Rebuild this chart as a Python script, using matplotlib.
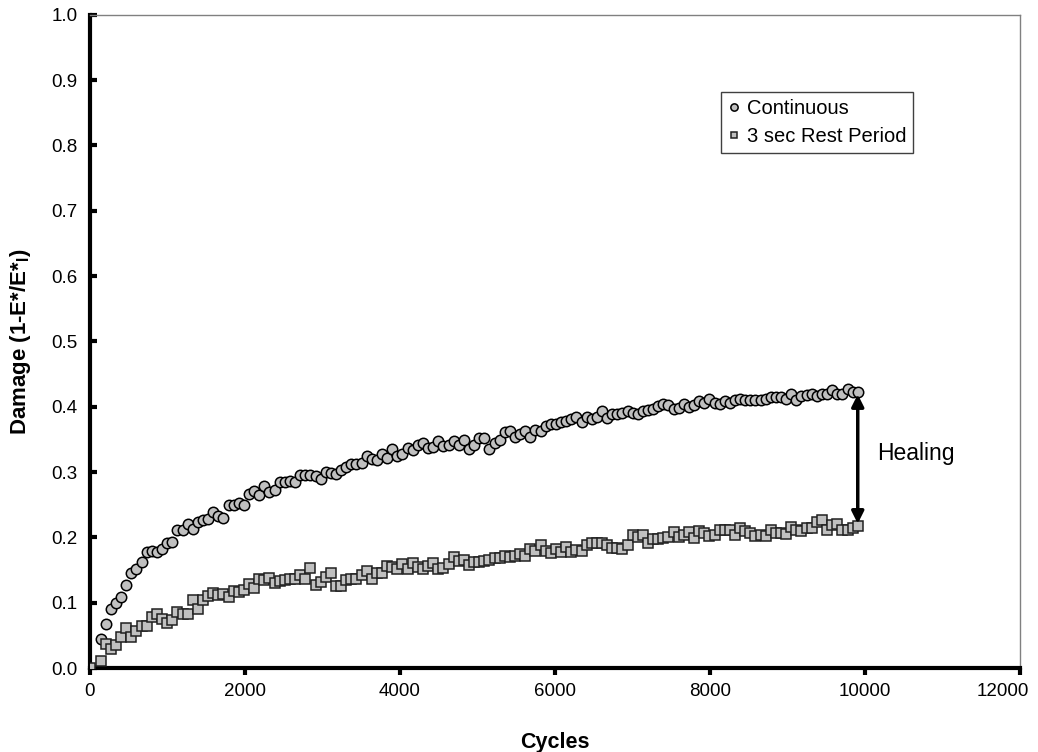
import numpy as np
import matplotlib
matplotlib.use("Agg")
import matplotlib.pyplot as plt
import matplotlib.transforms as mtransforms

plt.rcParams['font.family'] = ['Liberation Sans', 'DejaVu Sans']

cycles = [0, 138, 204, 270, 336, 402, 468, 534, 600, 666, 732, 798, 864, 930, 996,
          1062, 1128, 1194, 1260, 1326, 1392, 1458, 1524, 1590, 1656, 1722, 1788, 1854,
          1920, 1986, 2052, 2118, 2184, 2250, 2316, 2382, 2448, 2514, 2580, 2646, 2712,
          2778, 2844, 2910, 2976, 3042, 3108, 3174, 3240, 3306, 3372, 3438, 3504, 3570,
          3636, 3702, 3768, 3834, 3900, 3966, 4032, 4098, 4164, 4230, 4296, 4362, 4428,
          4494, 4560, 4626, 4692, 4758, 4824, 4890, 4956, 5022, 5088, 5154, 5220, 5286,
          5352, 5418, 5484, 5550, 5616, 5682, 5748, 5814, 5880, 5946, 6012, 6078, 6144,
          6210, 6276, 6342, 6408, 6474, 6540, 6606, 6672, 6738, 6804, 6870, 6936, 7002,
          7068, 7134, 7200, 7266, 7332, 7398, 7464, 7530, 7596, 7662, 7728, 7794, 7860,
          7926, 7992, 8058, 8124, 8190, 8256, 8322, 8388, 8454, 8520, 8586, 8652, 8718,
          8784, 8850, 8916, 8982, 9048, 9114, 9180, 9246, 9312, 9378, 9444, 9510, 9576,
          9642, 9708, 9774, 9840, 9906]

continuous = [0.0,
              0.044, 0.067, 0.090, 0.100, 0.109, 0.127, 0.146, 0.152, 0.163, 0.177, 0.179, 0.178,
              0.182, 0.192, 0.193, 0.211, 0.211, 0.220, 0.213, 0.223, 0.227, 0.228, 0.239,
              0.232, 0.230, 0.249, 0.249, 0.252, 0.249, 0.266, 0.271, 0.265, 0.279, 0.270, 0.273,
              0.285, 0.284, 0.286, 0.284, 0.295, 0.296, 0.295, 0.294, 0.290, 0.300, 0.299, 0.297, 0.303,
              0.308, 0.312, 0.313, 0.314, 0.325, 0.320, 0.318, 0.327, 0.322, 0.336, 0.325, 0.328,
              0.337, 0.333, 0.341, 0.345, 0.337, 0.339, 0.348, 0.340, 0.342, 0.348, 0.341, 0.349, 0.336,
              0.341, 0.352, 0.352, 0.336, 0.344, 0.349, 0.361, 0.363, 0.353, 0.359, 0.363, 0.353,
              0.364, 0.363, 0.370, 0.373, 0.373, 0.376, 0.378, 0.381, 0.385, 0.377, 0.384, 0.381, 0.384,
              0.394, 0.382, 0.389, 0.389, 0.390, 0.394, 0.391, 0.389, 0.393, 0.395, 0.397, 0.401,
              0.404, 0.403, 0.397, 0.398, 0.404, 0.399, 0.403, 0.409, 0.405, 0.412, 0.405, 0.404, 0.409,
              0.405, 0.410, 0.412, 0.411, 0.411, 0.411, 0.411, 0.412, 0.415, 0.415, 0.415, 0.412,
              0.419, 0.410, 0.417, 0.418, 0.419, 0.417, 0.419, 0.420, 0.425, 0.419, 0.420, 0.427,
              0.423, 0.423]

rest_3s = [0.0,
           0.010, 0.036, 0.029, 0.035, 0.048, 0.061, 0.048, 0.057, 0.064, 0.065, 0.078, 0.082,
           0.075, 0.069, 0.073, 0.085, 0.082, 0.082, 0.104, 0.090, 0.104, 0.110, 0.115,
           0.111, 0.113, 0.109, 0.118, 0.116, 0.120, 0.128, 0.123, 0.137, 0.134, 0.138, 0.130,
           0.133, 0.134, 0.136, 0.137, 0.142, 0.136, 0.153, 0.127, 0.131, 0.139, 0.145, 0.126, 0.126,
           0.134, 0.136, 0.137, 0.142, 0.149, 0.137, 0.145, 0.145, 0.156, 0.154, 0.151, 0.159,
           0.151, 0.161, 0.154, 0.152, 0.156, 0.161, 0.152, 0.153, 0.159, 0.170, 0.164, 0.166, 0.158,
           0.162, 0.163, 0.164, 0.165, 0.168, 0.169, 0.172, 0.170, 0.172, 0.175, 0.172, 0.182,
           0.179, 0.189, 0.179, 0.176, 0.182, 0.177, 0.185, 0.178, 0.181, 0.179, 0.188, 0.191, 0.192,
           0.192, 0.188, 0.184, 0.183, 0.182, 0.188, 0.203, 0.200, 0.204, 0.192, 0.197, 0.197,
           0.199, 0.200, 0.208, 0.200, 0.204, 0.208, 0.199, 0.210, 0.206, 0.202, 0.203, 0.211, 0.212,
           0.211, 0.204, 0.214, 0.209, 0.206, 0.202, 0.203, 0.202, 0.212, 0.207, 0.207, 0.205,
           0.216, 0.211, 0.210, 0.214, 0.215, 0.224, 0.226, 0.211, 0.219, 0.221, 0.212, 0.212,
           0.214, 0.217]

xticks = [0, 2000, 4000, 6000, 8000, 10000, 12000]
yticks = [0.0, 0.1, 0.2, 0.3, 0.4, 0.5, 0.6, 0.7, 0.8, 0.9, 1.0]

fig = plt.figure(figsize=(10.38, 7.52), dpi=100)
ax = fig.add_axes([0.0867, 0.1117, 0.8960, 0.8686])

ax.plot(cycles, continuous, 'o', ms=7.5, mfc='#c0c0c0', mec='black', mew=1.1,
        label='Continuous', zorder=3)
ax.plot(cycles, rest_3s, 's', ms=7, mfc='#c0c0c0', mec='#202020', mew=1.1,
        label='3 sec Rest Period', zorder=3)

# healing arrow between the two last points
ax.annotate('', xy=(cycles[-1], continuous[-1] - 0.004), xytext=(cycles[-1], rest_3s[-1] + 0.004),
            arrowprops=dict(arrowstyle='<|-|>', color='black', lw=2.5, mutation_scale=18,
                            shrinkA=0, shrinkB=0))
ax.text(10160, 0.329, 'Healing', fontsize=16.5, va='center', ha='left')

ax.set_xlim(0, 12000)
ax.set_ylim(0, 1.0)
ax.set_xticks(xticks)
ax.set_xticklabels([str(v) for v in xticks])
ax.set_yticks(yticks)
ax.set_yticklabels(['%.1f' % v for v in yticks])

for s in ['left', 'bottom']:
    ax.spines[s].set_linewidth(3)
    ax.spines[s].set_color('black')
for s in ['top', 'right']:
    ax.spines[s].set_linewidth(1)
    ax.spines[s].set_color('#808080')

ax.tick_params(axis='y', direction='in', length=5, width=3, labelsize=13.5, pad=9)
ax.tick_params(axis='x', direction='out', length=5, width=3, labelsize=13.5, pad=6)

# last x label pulled in a little so it fits inside the figure
last = ax.get_xticklabels()[-1]
last.set_transform(last.get_transform() + mtransforms.ScaledTranslation(-17 / 100, 0, fig.dpi_scale_trans))

ax.set_xlabel('Cycles', fontsize=15.5, fontweight='bold', labelpad=23)
ax.set_ylabel('Damage (1-E*/E*$_\\mathregular{I}$)', fontsize=16, fontweight='bold', labelpad=13)

leg = ax.legend(loc='upper right', bbox_to_anchor=(0.885, 0.882), borderaxespad=0,
                fontsize=14.5, fancybox=False, framealpha=1, edgecolor='#404040',
                handlelength=0.6, handletextpad=0.3, markerscale=0.7, borderpad=0.35,
                labelspacing=0.45)
leg.get_frame().set_linewidth(1)

fig.savefig('out.png', dpi=100)
